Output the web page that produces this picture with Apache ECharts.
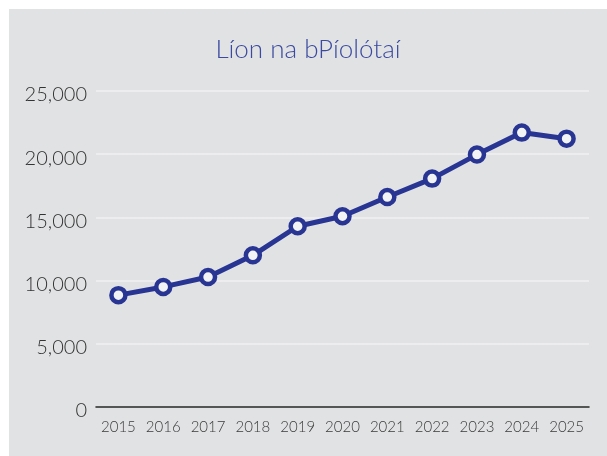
<!DOCTYPE html>
<html>
<head>
<meta charset="utf-8">
<script src="https://cdn.jsdelivr.net/npm/echarts@6/dist/echarts.min.js"></script>
<style>
  html, body { margin: 0; padding: 0; background: #ffffff; }
  #chart { position: absolute; left: 9px; top: 9px; width: 598px; height: 447px; background: #e1e2e4; }
</style>
</head>
<body>
<div id="chart"></div>
<script>
  // categories and values
  var years = ['2015', '2016', '2017', '2018', '2019', '2020', '2021', '2022', '2023', '2024', '2025'];
  var pilots = [8850, 9500, 10280, 12000, 14300, 15090, 16610, 18070, 19970, 21710, 21230];
  var titleText = 'Líon na bPíolótaí';

  var chart = echarts.init(document.getElementById('chart'));
  var font = 'Lato, Open Sans, sans-serif';

  chart.setOption({
    backgroundColor: 'transparent',
    animation: false,
    title: {
      text: titleText,
      left: 'center',
      top: 23,
      textStyle: { color: '#3b4aa0', fontSize: 26, fontWeight: 300, fontFamily: font }
    },
    grid: { left: 87, right: 18, top: 82, bottom: 49 },
    xAxis: {
      type: 'category',
      data: years,
      boundaryGap: true,
      axisLine: { lineStyle: { color: '#222', width: 1.5 } },
      axisTick: { show: false },
      axisLabel: { color: '#3a3a3a', fontSize: 15, fontWeight: 300, margin: 13, interval: 0, fontFamily: font }
    },
    yAxis: {
      type: 'value',
      min: 0,
      max: 25000,
      interval: 5000,
      axisLine: { show: false },
      axisTick: { show: false },
      splitLine: { lineStyle: { color: '#f1f1f3', width: 1.5 } },
      axisLabel: {
        color: '#333',
        fontSize: 20,
        fontWeight: 300,
        margin: 9,
        verticalAlign: 'top',
        lineHeight: 8,
        fontFamily: font,
        formatter: function (v) { return v.toLocaleString('en-US'); }
      }
    },
    series: [{
      type: 'line',
      data: pilots,
      symbol: 'circle',
      symbolSize: 14,
      lineStyle: { color: '#283593', width: 5 },
      itemStyle: { color: '#f2f3f5', borderColor: '#283593', borderWidth: 4.5 }
    }]
  });
</script>
</body>
</html>
